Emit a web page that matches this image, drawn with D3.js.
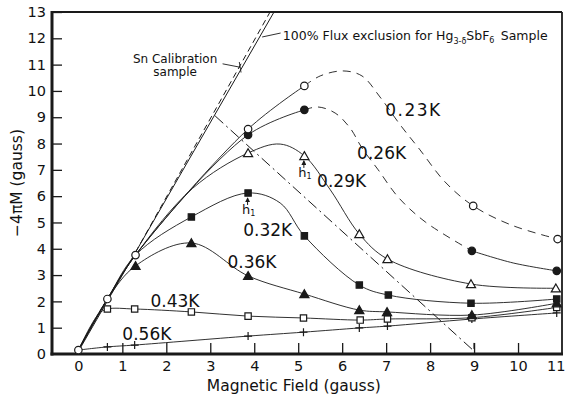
<!DOCTYPE html>
<html>
<head>
<meta charset="utf-8">
<script src="https://cdn.jsdelivr.net/npm/d3@7"></script>
<style>
body { margin: 0; background: #fff; }
svg text { font-family: "DejaVu Sans", sans-serif; fill: #111; }
</style>
</head>
<body>
<div id="chart"></div>
<script>
/*
*   Magnetisation -4piM vs applied field for Hg3-dSbF6 at several temperatures
*/

// tick labels
var xTickValues = [0, 1, 2, 3, 4, 5, 6, 7, 8, 9, 10, 11];
var yTickValues = [0, 1, 2, 3, 4, 5, 6, 7, 8, 9, 10, 11, 12, 13];

// temperatures (curve labels)
var temps = ["0.23K", "0.26K", "0.29K", "0.32K", "0.36K", "0.43K", "0.56K"];

var origin = [[0, 0.15]];
var pts023 = [[0.66, 2.09], [1.3, 3.76], [3.86, 8.55], [5.14, 10.19], [8.98, 5.63], [10.9, 4.37]];
var pts026 = [[3.86, 8.33], [5.14, 9.28], [8.95, 3.92], [10.88, 3.16]];
var pts029 = [[3.86, 7.64], [5.14, 7.53], [6.39, 4.56], [7.03, 3.61], [8.93, 2.66], [10.86, 2.5]];
var pts032 = [[2.57, 5.21], [3.86, 6.12], [5.14, 4.49], [6.39, 2.62], [7.05, 2.24], [8.93, 1.93], [10.88, 2.09]];
var pts036 = [[1.3, 3.35], [2.57, 4.22], [3.86, 2.97], [5.14, 2.28], [6.39, 1.67], [7.02, 1.6], [8.95, 1.48], [10.88, 1.93]];
var pts043 = [[0.66, 1.71], [1.28, 1.71], [2.57, 1.6], [3.86, 1.44], [5.12, 1.37], [6.41, 1.29], [7.03, 1.33], [8.95, 1.38], [10.88, 1.77]];
var pts056 = [[0.66, 0.27], [1.28, 0.34], [3.86, 0.68], [5.12, 0.83], [6.39, 0.99], [7.03, 1.06], [8.95, 1.33], [10.88, 1.56]];

// drawn curves (hand-drawn fits in the figure)
var curve023 = [[0, 0.15], [0.66, 2.09], [1.3, 3.76], [3.86, 8.55], [5.14, 10.19]];
var curve023dash = [[5.14, 10.19], [5.5, 10.57], [6.02, 10.76], [6.45, 10.57], [6.86, 9.77], [7.32, 8.71], [7.77, 7.76], [8.34, 6.54], [8.98, 5.63], [9.85, 4.9], [10.9, 4.37]];
var curve026 = [[0, 0.15], [0.66, 2.09], [1.3, 3.76], [3.86, 8.33], [5.14, 9.28]];
var curve026dash = [[5.14, 9.28], [5.45, 9.39], [5.84, 9.16], [6.18, 8.59], [6.45, 7.83], [6.82, 7.0], [7.27, 5.97], [7.89, 5.02], [8.95, 3.92]];
var curve026end = [[8.95, 3.92], [9.89, 3.46], [10.88, 3.16]];
var curve029 = [[0, 0.15], [0.66, 2.09], [1.3, 3.76], [2.6, 6.3], [3.86, 7.64], [4.59, 7.98], [5.14, 7.53], [5.73, 6.24], [6.39, 4.56], [7.03, 3.61], [8.93, 2.66], [10.86, 2.5]];
var curve032 = [[0, 0.15], [0.66, 2.09], [1.3, 3.76], [2.57, 5.21], [3.86, 6.12], [4.59, 5.74], [5.14, 4.49], [6.39, 2.62], [7.05, 2.24], [8.93, 1.93], [10.88, 2.09]];
var curve036 = [[0, 0.15], [0.66, 2.09], [1.3, 3.35], [2.57, 4.22], [3.86, 2.97], [5.14, 2.28], [6.39, 1.67], [7.02, 1.6], [8.95, 1.48], [10.88, 1.93]];
var curve043 = [[0, 0.15], [0.46, 1.52], [0.66, 1.71], [1.28, 1.71], [2.57, 1.6], [3.86, 1.44], [5.12, 1.37], [6.41, 1.29], [7.03, 1.33], [8.95, 1.38], [10.88, 1.77]];
var curve056 = [[0, 0.15], [0.66, 0.27], [1.28, 0.34], [3.86, 0.68], [5.12, 0.83], [6.39, 0.99], [7.03, 1.06], [8.95, 1.33], [10.88, 1.56]];

// reference lines
var fluxLine = [[0, 0.1], [4.45, 13]];
var snLine = [[1.3, 3.87], [4.36, 13]];
var h1Line = [[3.11, 9.05], [9.02, 0.08]];

//Standard Dimension and Margin setup
var margin = { top: 12, right: 3, bottom: 48, left: 52 },
width = 565 - margin.left - margin.right,
height = 402 - margin.top - margin.bottom;

var svg = d3.select("#chart")
      .append("svg")
      .attr("width", width + margin.left + margin.right)
      .attr("height", height + margin.top + margin.bottom)
      .append("g")
      .attr("transform", `translate(${margin.left}, ${margin.top})`);

var x = d3.scaleLinear().domain([-0.6, 11]).range([0, width]);
var y = d3.scaleLinear().domain([0, 13]).range([height, 0]);

var ink = "#1a1a1a";

//Axes, ticks point inwards
var xAxis = svg.append("g")
  .attr("transform", `translate(0, ${height})`)
  .call(d3.axisBottom(x).tickValues(xTickValues).tickSize(-11).tickPadding(7).tickFormat(d3.format("d")));
xAxis.select(".domain").remove();
xAxis.selectAll(".tick line").attr("stroke", ink).attr("stroke-width", 1.3)
  .filter(d => d == 0 || d == 11).remove();
xAxis.selectAll("text").style("font-size", "14.5px");
// last label sits against the right border, as in the original
xAxis.selectAll("text").filter(d => d == 11).attr("text-anchor", "end").attr("x", 3);

var yAxis = svg.append("g")
  .call(d3.axisLeft(y).tickValues(yTickValues).tickSize(-10).tickPadding(6).tickFormat(d3.format("d")));
yAxis.select(".domain").remove();
yAxis.selectAll(".tick line").attr("stroke", ink).attr("stroke-width", 1.3)
  .filter(d => d == 0).remove();
yAxis.selectAll("text").style("font-size", "14.5px");

//Frame: heavy left/bottom, lighter top/right
svg.append("line").attr("x1", x(11)).attr("x2", x(11)).attr("y1", y(13)).attr("y2", y(0))
  .attr("stroke", ink).attr("stroke-width", 1.8);
svg.append("line").attr("x1", 0).attr("x2", width).attr("y1", y(13)).attr("y2", y(13))
  .attr("stroke", ink).attr("stroke-width", 2.2);
svg.append("line").attr("x1", 0).attr("x2", 0).attr("y1", y(13) - 1).attr("y2", y(0) + 1.5)
  .attr("stroke", ink).attr("stroke-width", 3);
svg.append("line").attr("x1", -1.5).attr("x2", width + 1).attr("y1", y(0)).attr("y2", y(0))
  .attr("stroke", ink).attr("stroke-width", 3);

//Axis titles
svg.append("text")
  .attr("x", x(4.9)).attr("y", height + 37)
  .attr("text-anchor", "middle")
  .style("font-size", "15.5px")
  .text("Magnetic Field (gauss)");
svg.append("text")
  .attr("transform", `translate(${-30}, ${y(6.5)}) rotate(-90)`)
  .attr("text-anchor", "middle")
  .style("font-size", "15.5px")
  .text("\u22124\u03C0M (gauss)");

//Reference lines
var straight = d3.line().x(d => x(d[0])).y(d => y(d[1]));
svg.append("path").attr("d", straight(fluxLine))
  .attr("fill", "none").attr("stroke", ink).attr("stroke-width", 1);
svg.append("path").attr("d", straight(snLine))
  .attr("fill", "none").attr("stroke", ink).attr("stroke-width", 1).attr("stroke-dasharray", "6,4");
svg.append("path").attr("d", straight(h1Line))
  .attr("fill", "none").attr("stroke", ink).attr("stroke-width", 1).attr("stroke-dasharray", "11,4,2,4");
// little end tick on the h1 line
var h1End = h1Line[1];
svg.append("line")
  .attr("x1", x(h1End[0]) - 1).attr("x2", x(h1End[0]) - 1)
  .attr("y1", y(h1End[1]) - 9).attr("y2", y(h1End[1]) - 3)
  .attr("stroke", ink).attr("stroke-width", 1);

//Data curves
var smooth = d3.line().x(d => x(d[0])).y(d => y(d[1])).curve(d3.curveCatmullRom.alpha(0.5));
function drawCurve(data, dash) {
  svg.append("path").attr("d", smooth(data))
    .attr("fill", "none").attr("stroke", ink).attr("stroke-width", 0.9)
    .attr("stroke-dasharray", dash ? "8,6" : null);
}
drawCurve(curve023, false);
drawCurve(curve023dash, true);
drawCurve(curve026, false);
drawCurve(curve026dash, true);
drawCurve(curve026end, false);
drawCurve(curve029, false);
drawCurve(curve032, false);
drawCurve(curve036, false);
drawCurve(curve043, false);
drawCurve(curve056, false);

//Markers
function drawMarkers(data, shape, filled) {
  var g = svg.append("g");
  if (shape == "plus") {
    g.selectAll("path").data(data).join("path")
      .attr("transform", d => `translate(${x(d[0])}, ${y(d[1])})`)
      .attr("d", "M-4,0H4M0,-4V4")
      .attr("stroke", ink).attr("stroke-width", 1.2).attr("fill", "none");
    return;
  }
  var sym = shape == "circle" ? d3.symbolCircle : shape == "square" ? d3.symbolSquare : d3.symbolTriangle;
  var size = shape == "circle" ? 44 : shape == "square" ? 40 : 36;
  g.selectAll("path").data(data).join("path")
    .attr("transform", d => `translate(${x(d[0])}, ${y(d[1]) + (shape == "triangle" ? 1 : 0)})`)
    .attr("d", d3.symbol().type(sym).size(size))
    .attr("fill", filled ? ink : "#fff")
    .attr("stroke", ink).attr("stroke-width", 1.2);
}
drawMarkers(pts056, "plus", false);
drawMarkers(pts043, "square", false);
drawMarkers(pts036, "triangle", true);
drawMarkers(pts032, "square", true);
drawMarkers(pts029, "triangle", false);
drawMarkers(pts026, "circle", true);
drawMarkers(pts023, "circle", false);
drawMarkers(origin, "circle", false);

//Temperature labels
var labelPos = [[6.98, 9.05], [6.34, 7.41], [5.43, 6.35], [3.75, 4.48], [3.39, 3.27], [1.64, 1.79], [1.0, 0.53]];
svg.append("g").selectAll("text").data(temps).join("text")
  .attr("x", (d, i) => x(labelPos[i][0]))
  .attr("y", (d, i) => y(labelPos[i][1]))
  .style("font-size", "17px")
  .style("letter-spacing", (d, i) => i == 0 ? "1.5px" : "0px")
  .text(d => d);

//h1 arrows pointing at the critical field points
svg.append("defs").append("marker")
  .attr("id", "arrowhead").attr("viewBox", "0 0 6 6").attr("refX", 5).attr("refY", 3)
  .attr("markerWidth", 5).attr("markerHeight", 5).attr("orient", "auto")
  .append("path").attr("d", "M0,0L6,3L0,6Z").attr("fill", ink);
var h1Points = [pts029[1], pts032[1]];
h1Points.forEach(function(p) {
  svg.append("line")
    .attr("x1", x(p[0]) - 0.5).attr("x2", x(p[0]) - 0.5)
    .attr("y1", y(p[1]) + 12).attr("y2", y(p[1]) + 5)
    .attr("stroke", ink).attr("stroke-width", 1)
    .attr("marker-end", "url(#arrowhead)");
  var t = svg.append("text")
    .attr("x", x(p[0]) - 6).attr("y", y(p[1]) + 21)
    .style("font-size", "13px");
  t.append("tspan").text("h");
  t.append("tspan").attr("dy", 2).style("font-size", "8px").text("1");
});

//Annotations for the reference lines
var sn = svg.append("text").attr("text-anchor", "middle").style("font-size", "12px");
sn.append("tspan").attr("x", x(2.2)).attr("y", y(11.05)).text("Sn Calibration");
sn.append("tspan").attr("x", x(2.2)).attr("y", y(10.55)).text("sample");
svg.append("path")
  .attr("d", `M${x(3.28)},${y(11.03)}L${x(3.68)},${y(10.9)}M${x(3.66)},${y(11.1)}L${x(3.7)},${y(10.7)}`)
  .attr("fill", "none").attr("stroke", ink).attr("stroke-width", 0.9);

svg.append("path")
  .attr("d", `M${x(4.18)},${y(12.05)}L${x(4.6)},${y(12.2)}`)
  .attr("fill", "none").attr("stroke", ink).attr("stroke-width", 0.9);
var flux = svg.append("text").attr("x", x(4.65)).attr("y", y(11.95)).style("font-size", "12.5px");
flux.append("tspan").text("100% Flux exclusion for Hg");
flux.append("tspan").attr("dy", 4).style("font-size", "8px").text("3-\u03B4");
flux.append("tspan").attr("dy", -4).text("SbF");
flux.append("tspan").attr("dy", 3).style("font-size", "8px").text("6");
flux.append("tspan").attr("dy", -3).text("\u2002Sample");
</script>
</body>
</html>
